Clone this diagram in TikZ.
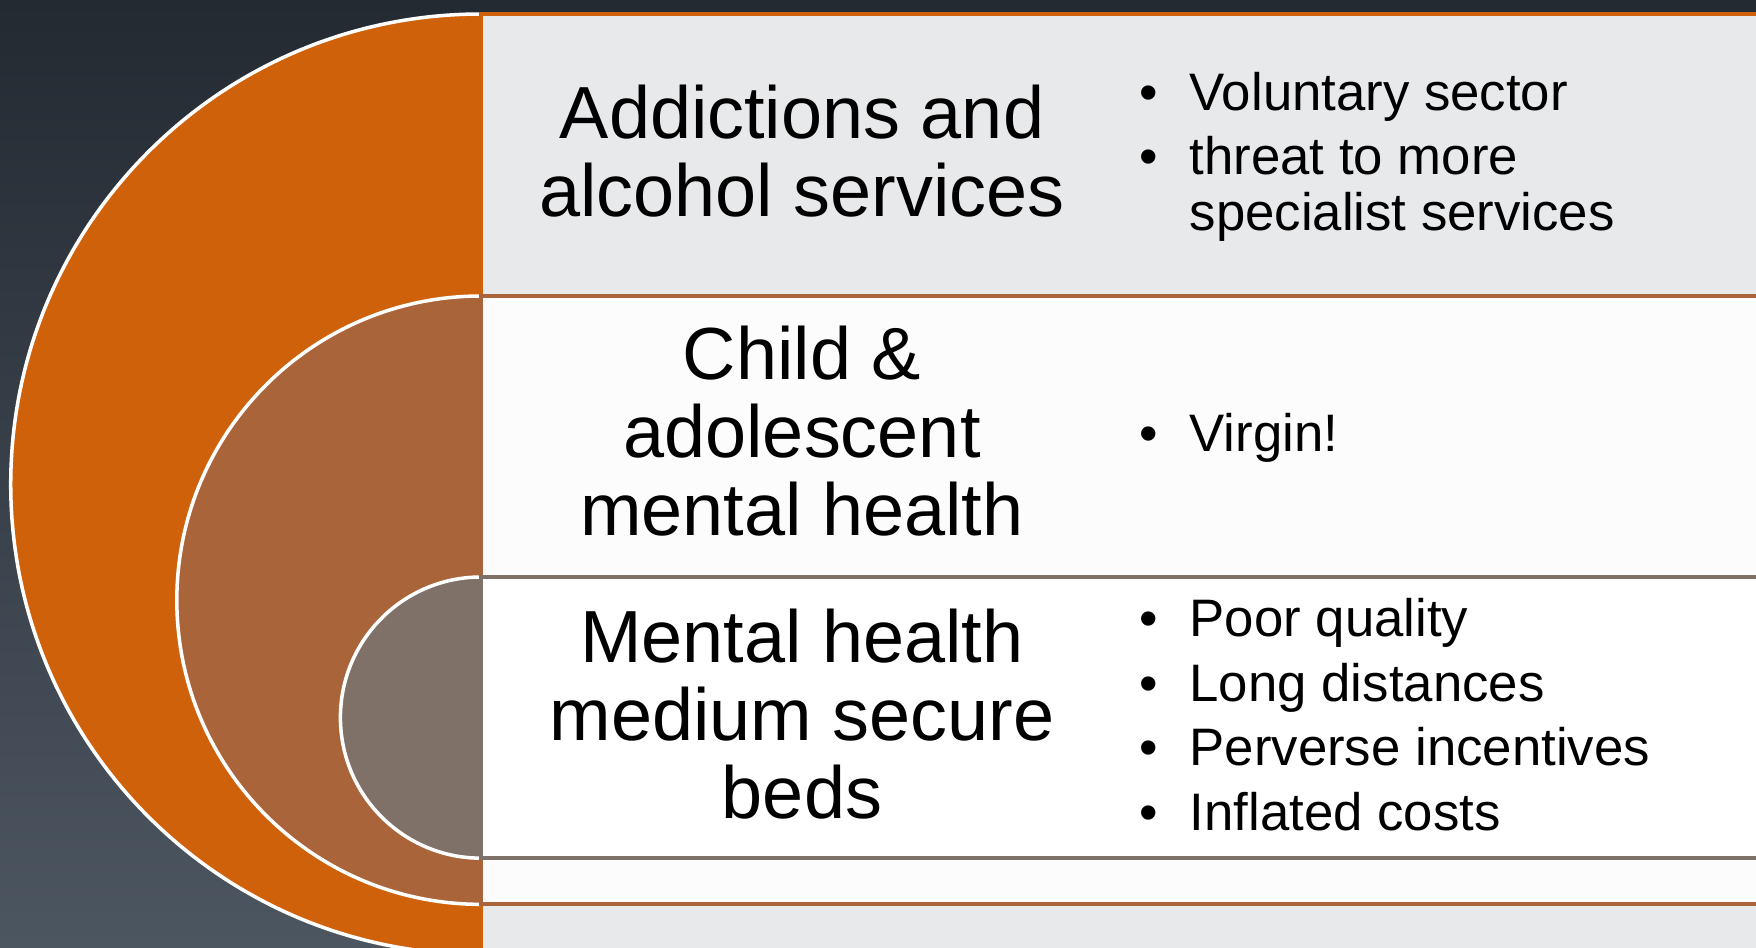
\documentclass[tikz,border=0pt]{standalone}
\usepackage{fontspec}
\setmainfont{Liberation Sans}
\definecolor{bgtop}{RGB}{36,42,50}
\definecolor{bgbot}{RGB}{76,86,97}
\definecolor{ringA}{RGB}{208,97,11}
\definecolor{ringB}{RGB}{169,100,58}
\definecolor{ringC}{RGB}{127,112,104}
\definecolor{rowA}{RGB}{232,233,235}
\definecolor{rowB}{RGB}{252,252,252}
\newcommand{\bul}{\llap{\textbullet\hspace{9pt}}}
\tikzset{
  ring/.style={draw=white, line width=1pt},
  rowbox/.style={line width=1pt},
  title/.style={align=center, inner sep=0pt, font=\fontsize{21pt}{22.2pt}\selectfont},
  item/.style={anchor=base west, inner sep=0pt, font=\fontsize{15pt}{18pt}\selectfont}
}
\begin{document}
\begin{tikzpicture}[x=0.01cm,y=0.01cm]
\useasboundingbox (0,0) rectangle (1756,947);
\clip (0,0) rectangle (1756,947);
\shade[top color=bgtop, bottom color=bgbot] (0,0) rectangle (1756,947);
% outer ring and its row
\fill[ringA] (481,933) arc[start angle=90, end angle=270, radius=4.7cm] -- cycle;
\draw[ring] (481,933) arc[start angle=90, end angle=270, radius=4.7cm];
\draw[rowbox, draw=ringA, fill=rowA] (481,933) rectangle (1780,-20);
% middle ring
\fill[ringB] (481,651) arc[start angle=90, end angle=270, radius=3.04cm] -- cycle;
\draw[ring] (481,651) arc[start angle=90, end angle=270, radius=3.04cm];
\draw[rowbox, draw=ringB, fill=rowB] (481,651) rectangle (1780,43);
% inner ring
\fill[ringC] (481,370) arc[start angle=90, end angle=270, radius=1.405cm] -- cycle;
\draw[ring] (481,370) arc[start angle=90, end angle=270, radius=1.405cm];
\draw[rowbox, draw=ringC, fill=white] (481,370) rectangle (1780,89);

\node[title] (addict) at (802,796) {Addictions and\\alcohol services};
\node[title] (child) at (802,515.5) {Child \&\\adolescent\\mental health};
\node[title] (medium) at (802,233) {Mental health\\medium secure\\beds};

\node[item] (vol) at (1189,836.5) {\bul Voluntary sector};
\node[item] (threat) at (1189,772.5) {\bul threat to more};
\node[item] (spec) at (1189,716.5) {specialist services};
\node[item] (virgin) at (1189,496) {\bul Virgin!};
\node[item] (poor) at (1189,310.5) {\bul Poor quality};
\node[item] (long) at (1189,245.5) {\bul Long distances};
\node[item] (perverse) at (1189,181.5) {\bul Perverse incentives};
\node[item] (inflated) at (1189,116.5) {\bul Inflated costs};
\end{tikzpicture}
\end{document}
